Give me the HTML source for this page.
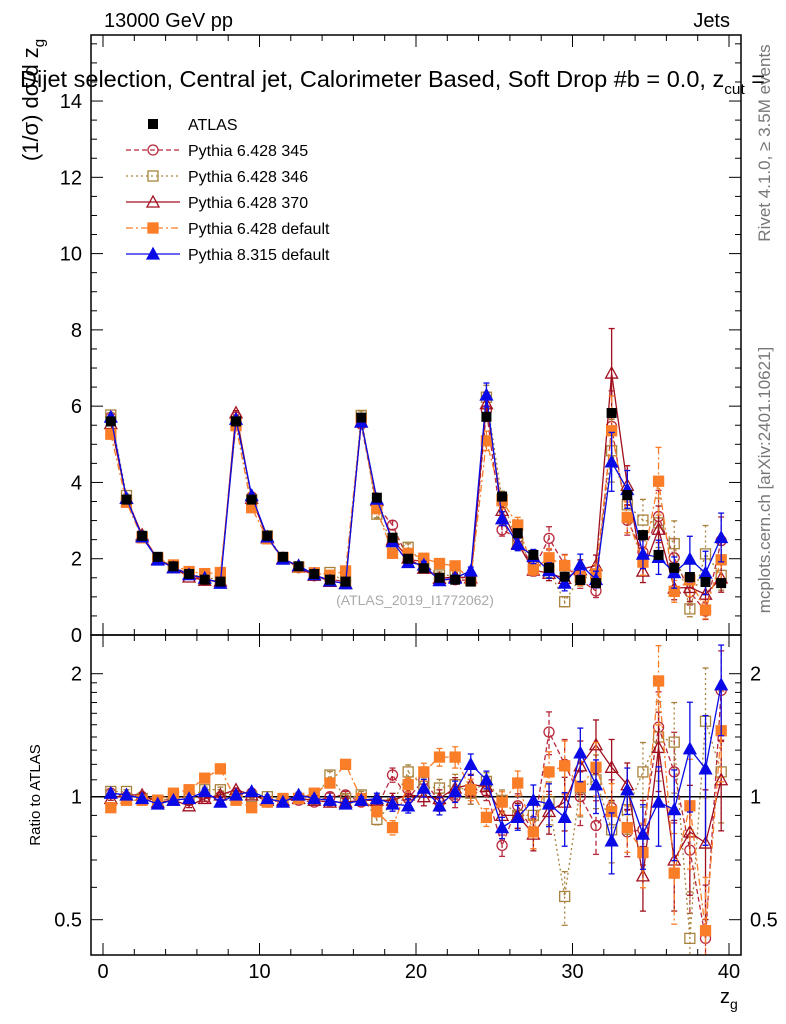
<!DOCTYPE html>
<html><head><meta charset="utf-8"><style>
body{margin:0;background:#fff;}
svg{display:block;font-family:"Liberation Sans",sans-serif;}
</style></head><body>
<svg id="c" width="786" height="1024" viewBox="0 0 786 1024" xmlns="http://www.w3.org/2000/svg">
<defs>
<clipPath id="cm"><rect x="91" y="35" width="650" height="600"/></clipPath>
<clipPath id="cr"><rect x="91" y="635" width="650" height="320"/></clipPath>
</defs>
<text x="104" y="27" font-size="20">13000 GeV pp</text>
<text x="730" y="27" font-size="20" text-anchor="end">Jets</text>
<g id="main" clip-path="url(#cm)"></g>
<g id="ratio" clip-path="url(#cr)"></g>
<g id="axes"></g>
<text x="20" y="87" font-size="23" textLength="745" lengthAdjust="spacingAndGlyphs">Dijet selection, Central jet, Calorimeter Based, Soft Drop #b = 0.0, z<tspan font-size="15" dy="7">cut</tspan><tspan dy="-7"> =</tspan></text>
<text transform="translate(38,100) rotate(-90)" font-size="22" text-anchor="middle">(1/σ) dσ/d z<tspan font-size="15" dy="6">g</tspan></text>
<text transform="translate(40,795) rotate(-90)" font-size="15" text-anchor="middle">Ratio to ATLAS</text>
<text x="720" y="1003" font-size="20">z<tspan font-size="14" dy="6">g</tspan></text>
<text transform="translate(770,143) rotate(-90)" font-size="17" fill="#777" text-anchor="middle">Rivet 4.1.0, ≥ 3.5M events</text>
<text transform="translate(770,480) rotate(-90)" font-size="17" fill="#777" text-anchor="middle">mcplots.cern.ch [arXiv:2401.10621]</text>
<text x="415" y="605" font-size="14" fill="#aaa" text-anchor="middle">(ATLAS_2019_I1772062)</text>
<g id="legend"></g>
</svg>
<script>
const bins = [];for(let i=0;i<40;i++)bins.push(i+0.5);
const atlas=[5.6,3.55,2.6,2.05,1.8,1.6,1.45,1.4, 5.6,3.55,2.6,2.05,1.8,1.6,1.45,1.4, 5.7,3.6,2.55,2.0,1.75,1.5,1.45,1.4, 5.72,3.63,2.67,2.1,1.76,1.53,1.44,1.36, 5.82,3.67,2.62,2.1,1.76,1.52,1.39,1.36];
const r345=[1.02,1.0,1.0,0.98,0.99,1.0,0.99,1.0, 1.02,1.02,0.97,0.98,0.98,0.97,1.0,1.01, 0.97,0.94,1.13,0.99,1.10,0.97,1.0,1.02, 1.03,0.76,0.95,0.82,1.44,1.2,1.0,0.85, 0.94,0.82,0.83,1.48,1.15,0.74,0.45,1.82];
const r346=[1.03,1.03,0.99,0.98,0.99,1.0,1.04,1.04, 1.0,1.0,1.0,0.98,0.99,0.98,1.13,0.99, 1.01,0.88,0.96,1.15,1.06,1.05,1.07,1.02, 1.09,0.98,0.90,0.90,0.97,0.57,1.05,1.10, 0.83,0.93,1.15,1.4,1.36,0.45,1.53,1.15];
const r370=[0.99,1.01,1.01,0.97,0.98,0.95,0.99,1.01, 1.04,1.01,0.98,0.98,0.99,0.98,0.97,0.97, 0.98,0.98,0.98,1.01,1.0,0.99,1.05,1.07, 1.06,0.9,0.9,0.81,0.92,0.97,1.19,1.34, 1.18,1.07,0.64,1.32,0.70,0.82,0.77,1.1];
const r6def=[0.94,0.98,0.98,0.98,1.02,1.04,1.11,1.17, 0.98,0.94,0.97,0.99,0.99,1.02,1.08,1.2, 0.99,0.92,0.84,1.07,1.15,1.25,1.25,1.04, 0.89,0.97,1.08,0.82,1.15,1.19,1.06,1.18, 0.92,0.84,0.73,1.92,0.65,0.95,0.47,1.45];
const r8=[1.02,1.01,0.99,0.96,0.98,0.99,1.03,0.97, 1.01,1.03,0.99,0.97,1.01,0.99,0.98,0.96, 0.98,0.99,0.96,0.95,1.05,0.95,1.03,1.20, 1.10,0.84,0.89,0.98,0.96,0.89,1.28,1.07, 0.78,1.04,0.81,0.97,0.93,1.31,1.17,1.88];
const relErr=[0.01,0.01,0.01,0.01,0.01,0.01,0.015,0.015, 0.01,0.01,0.01,0.01,0.015,0.015,0.02,0.02, 0.02,0.03,0.04,0.04,0.05,0.05,0.06,0.06, 0.05,0.06,0.07,0.09,0.12,0.15,0.15,0.15, 0.17,0.13,0.18,0.22,0.25,0.3,0.35,0.25];
const xTicks=[0,10,20,30,40];
const yTicks=[0,2,4,6,8,10,12,14];
const rTicks=[0.5,1,2];

const NS="http://www.w3.org/2000/svg";
const X=v=>103+15.65*v;
const YM=v=>635-38.14*v;
const YR=r=>796.7-123*Math.log2(r);
function el(tag,attrs,parent){const e=document.createElementNS(NS,tag);for(const k in attrs)e.setAttribute(k,attrs[k]);parent.appendChild(e);return e;}
const main=document.getElementById('main'),ratio=document.getElementById('ratio'),axes=document.getElementById('axes'),legend=document.getElementById('legend');

const series=[
 {name:'pythia-6428-345',label:'Pythia 6.428 345',r:r345,color:'#b8283c',dash:'5,3',marker:'circle',fill:'none'},
 {name:'pythia-6428-346',label:'Pythia 6.428 346',r:r346,color:'#a8823c',dash:'2,3',marker:'square',fill:'none'},
 {name:'pythia-6428-370',label:'Pythia 6.428 370',r:r370,color:'#a00f1e',dash:'',marker:'triangle',fill:'none'},
 {name:'pythia-6428-default',label:'Pythia 6.428 default',r:r6def,color:'#fa7d28',dash:'7,3,2,3',marker:'square',fill:'#fa7d28'},
 {name:'pythia-8315-default',label:'Pythia 8.315 default',r:r8,color:'#0a0ae6',dash:'',marker:'triangle',fill:'#0a0ae6'}
];
function marker(s,x,y,g,sz){
 let m;
 if(s.marker==='circle')m=el('circle',{cx:x,cy:y,r:sz/2,fill:s.fill,stroke:s.color,'stroke-width':1.3},g);
 else if(s.marker==='square')m=el('rect',{x:x-sz/2,y:y-sz/2,width:sz,height:sz,fill:s.fill,stroke:s.color,'stroke-width':1.3},g);
 else m=el('polygon',{points:`${x},${y-sz/2-1} ${x-sz/2-1},${y+sz/2} ${x+sz/2+1},${y+sz/2}`,fill:s.fill,stroke:s.color,'stroke-width':1.3},g);
 return m;
}
function drawSeries(s,g,valFn,yFn){
 const grp=el('g',{},g);
 
 
 const pts=bins.map((b,i)=>X(b)+','+yFn(valFn(i)).toFixed(1)).join(' ');
 el('polyline',{points:pts,fill:'none',stroke:s.color,'stroke-width':1.3,'stroke-dasharray':s.dash},grp);
 bins.forEach((b,i)=>{
  const v=valFn(i),e=v*relErr[i];
  const x=X(b),y1=yFn(v+e),y2=yFn(Math.max(v-e,0.01));
  el('line',{x1:x,x2:x,y1:y1,y2:y2,stroke:s.color,'stroke-width':1.3,'stroke-dasharray':s.dash},grp);
  el('line',{x1:x-3,x2:x+3,y1:y1,y2:y1,stroke:s.color,'stroke-width':1.3},grp);
  el('line',{x1:x-3,x2:x+3,y1:y2,y2:y2,stroke:s.color,'stroke-width':1.3},grp);
  const m=marker(s,x,yFn(v),grp,10);
  
  
 });
}
series.forEach(s=>drawSeries(s,main,i=>atlas[i]*s.r[i],YM));
bins.forEach((b,i)=>{
 const r=el('rect',{x:X(b)-5,y:YM(atlas[i])-5,width:10,height:10,fill:'#000'},main);
 
 
});
el('line',{x1:91,x2:741,y1:YR(1),y2:YR(1),stroke:'#000','stroke-width':1.5},ratio);
series.forEach(s=>drawSeries(s,ratio,i=>s.r[i],YR));

el('rect',{x:91,y:35,width:650,height:600,fill:'none',stroke:'#000','stroke-width':1.5},axes);
el('rect',{x:91,y:635,width:650,height:320,fill:'none',stroke:'#000','stroke-width':1.5},axes);
for(let v=0;v<=40;v+=2){
 const x=X(v),L=(v%10===0)?12:6;
 [[35,1],[635,-1],[635,1],[955,-1]].forEach(([y,d])=>el('line',{x1:x,x2:x,y1:y,y2:y+d*L,stroke:'#000'},axes));
}
xTicks.forEach(v=>{const t=el('text',{x:X(v),y:978,'font-size':20,'text-anchor':'middle'},axes);t.textContent=v;
 
 });
for(let v=0;v<=15.5;v+=0.5){
 const y=YM(v);if(y<35)continue;const L=(v%2===0)?12:6;
 el('line',{x1:91,x2:91+L,y1:y,y2:y,stroke:'#000'},axes);
 el('line',{x1:741,x2:741-L,y1:y,y2:y,stroke:'#000'},axes);
}
yTicks.forEach(v=>{const t=el('text',{x:82,y:YM(v)+7,'font-size':20,'text-anchor':'end'},axes);t.textContent=v;
 
 });
[0.4,0.5,0.6,0.7,0.8,0.9,1,1.1,1.2,1.3,1.4,1.5,1.6,1.7,1.8,1.9,2].forEach(v=>{
 const y=YR(v);if(y>955||y<635)return;const L=rTicks.includes(v)?12:6;
 el('line',{x1:91,x2:91+L,y1:y,y2:y,stroke:'#000'},axes);
 el('line',{x1:741,x2:741-L,y1:y,y2:y,stroke:'#000'},axes);
});
rTicks.forEach(v=>{
 const t=el('text',{x:82,y:YR(v)+7,'font-size':20,'text-anchor':'end'},axes);t.textContent=v;
 
 
 const t2=el('text',{x:750,y:YR(v)+7,'font-size':20},axes);t2.textContent=v;
 
 
});
const ent=[{label:'ATLAS',atlas:true}].concat(series);
ent.forEach((s,k)=>{
 const y=124+26*k;
 const g=el('g',{},legend);
 
 
 if(s.atlas){el('rect',{x:148,y:y-5,width:10,height:10,fill:'#000'},g);}
 else{
  el('line',{x1:126,x2:180,y1:y,y2:y,stroke:s.color,'stroke-width':1.3,'stroke-dasharray':s.dash},g);
  marker(s,153,y,g,10);
 }
 const t=el('text',{x:188,y:y+6,'font-size':16},g);t.textContent=s.label;
});
</script>
</body></html>
